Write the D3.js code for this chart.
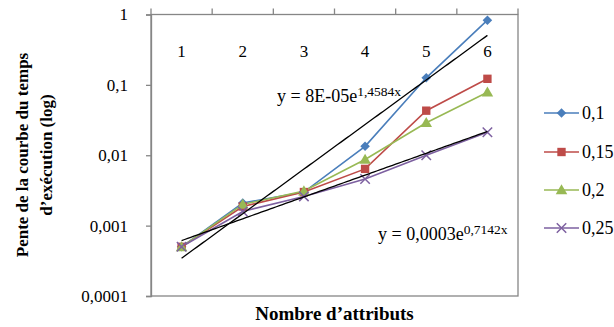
<!DOCTYPE html>
<html><head><meta charset="utf-8">
<script src="https://cdn.jsdelivr.net/npm/d3@7"></script>
<style>body{margin:0;background:#fff}svg{display:block}text{font-family:"Liberation Serif","Times New Roman",serif;fill:#000}</style>
</head><body>
<script>
const categories = ["1","2","3","4","5","6"];
const seriesNames = ["0,1","0,15","0,2","0,25"];
const s010 = [0.0005, 0.0021, 0.0030, 0.0134, 0.126, 0.83];
const s015 = [0.0005, 0.00187, 0.0030, 0.0064, 0.043, 0.122];
const s020 = [0.0005, 0.0020, 0.0031, 0.0087, 0.029, 0.0785];
const s025 = [0.0005, 0.00159, 0.0026, 0.0046, 0.010, 0.0212];
const yTicks = [0.0001, 0.001, 0.01, 0.1, 1];
const yTickLabels = ["0,0001","0,001","0,01","0,1","1"];
const trendA = [8e-5, 0.0003];
const trendB = [1.4584, 0.7142];
const trendMain = ["y = 8E-05e", "y = 0,0003e"];
const trendSup = ["1,4584x", "0,7142x"];
const colors = ["#4A7EBB","#BE4B48","#98B954","#7D60A0"];
const shapes = ["diamond","square","triangle","x"];
const yTitle = ["Pente de la courbe du temps","d’exécution (log)"];
const xTitle = "Nombre d’attributs";

const seriesData = [s010, s015, s020, s025];
const W = 614, H = 327;
const L = 151, R = 518, T = 14.5, B = 296;
const svg = d3.select("body").append("svg").attr("width", W).attr("height", H);
const x = d3.scaleBand().domain(categories).range([L, R]).padding(0);
const cx = c => x(c) + x.bandwidth() / 2;
const y = d3.scaleLog().domain([0.0001, 1]).range([B, T]);
const grey = "#868686";

// plot box
svg.append("rect").attr("x", L).attr("y", T).attr("width", R - L).attr("height", B - T)
  .attr("fill", "none").attr("stroke", grey).attr("stroke-width", 1.3);

// left axis
const ya = svg.append("g").attr("transform", `translate(${L},0)`)
  .call(d3.axisLeft(y).tickValues(yTicks).tickSize(5).tickPadding(18)
    .tickFormat((d, i) => yTickLabels[i]));
ya.select(".domain").attr("stroke", grey).attr("stroke-width", 1.3);
ya.selectAll(".tick line").attr("stroke", grey).attr("stroke-width", 1.3);
ya.selectAll(".tick text").attr("font-size", 17).attr("font-family", "Liberation Serif").attr("fill", "#000");

// top category ticks at band boundaries
const bounds = categories.map(c => x(c)).concat([x.range()[1]]);
svg.append("g").selectAll("line").data(bounds).join("line")
  .attr("x1", d => d).attr("x2", d => d).attr("y1", T - 6).attr("y2", T)
  .attr("stroke", grey).attr("stroke-width", 1.3);
svg.append("g").selectAll("text").data(categories).join("text")
  .attr("x", d => cx(d)).attr("y", 57).attr("text-anchor", "middle")
  .attr("font-size", 17).text(d => d);

// series lines
const line = d3.line().x((d, i) => cx(categories[i])).y(d => y(d));
seriesData.forEach((s, k) => {
  svg.append("path").datum(s).attr("d", line).attr("fill", "none")
    .attr("stroke", colors[k]).attr("stroke-width", 1.6);
});

function marker(g, shape, color, px, py) {
  if (shape === "diamond") {
    g.append("path").attr("d", d3.symbol(d3.symbolSquare, 46)())
      .attr("transform", `translate(${px},${py}) rotate(45)`).attr("fill", color);
  } else if (shape === "square") {
    g.append("path").attr("d", d3.symbol(d3.symbolSquare, 70)())
      .attr("transform", `translate(${px},${py})`).attr("fill", color);
  } else if (shape === "triangle") {
    g.append("path").attr("d", d3.symbol(d3.symbolTriangle, 58)())
      .attr("transform", `translate(${px},${py + 1})`).attr("fill", color);
  } else {
    g.append("path").attr("d", d3.symbol(d3.symbolX, 60)())
      .attr("transform", `translate(${px},${py})`).attr("fill", "none")
      .attr("stroke", color).attr("stroke-width", 1.5);
  }
}
seriesData.forEach((s, k) => {
  const g = svg.append("g");
  s.forEach((v, i) => marker(g, shapes[k], colors[k], cx(categories[i]), y(v)));
});

// trendlines (exponential fits)
const tx = t => cx(categories[0]) + (t - 1) * x.bandwidth();
trendA.forEach((a, k) => {
  const ts = d3.range(1, 6.0001, 0.05);
  svg.append("path").datum(ts)
    .attr("d", d3.line().x(t => tx(t)).y(t => y(a * Math.exp(trendB[k] * t))))
    .attr("fill", "none").attr("stroke", "#000").attr("stroke-width", 1.3);
});

// equation labels
const eqPos = [[277, 102], [378, 240]];
trendMain.forEach((m, k) => {
  const t = svg.append("text").attr("x", eqPos[k][0]).attr("y", eqPos[k][1]).attr("font-size", 18);
  t.append("tspan").text(m);
  t.append("tspan").attr("font-size", 13.5).attr("dy", -6).text(trendSup[k]);
});

// legend
const legY = [113, 152, 190, 228];
seriesNames.forEach((n, k) => {
  const g = svg.append("g");
  g.append("line").attr("x1", 544).attr("x2", 579).attr("y1", legY[k]).attr("y2", legY[k])
    .attr("stroke", colors[k]).attr("stroke-width", 1.6);
  marker(g, shapes[k], colors[k], 561.5, legY[k]);
  g.append("text").attr("x", 582).attr("y", legY[k]).attr("dy", "0.35em")
    .attr("font-size", 18).text(n);
});

// axis titles
svg.append("text").attr("x", 334.5).attr("y", 320).attr("text-anchor", "middle")
  .attr("font-size", 19).attr("font-weight", "bold").text(xTitle);
const yt = svg.append("text").attr("transform", "translate(28,155) rotate(-90)")
  .attr("text-anchor", "middle").attr("font-size", 17).attr("font-weight", "bold");
yt.append("tspan").attr("x", 0).attr("y", 0).text(yTitle[0]);
yt.append("tspan").attr("x", 0).attr("y", 24).text(yTitle[1]);
</script>
</body></html>
